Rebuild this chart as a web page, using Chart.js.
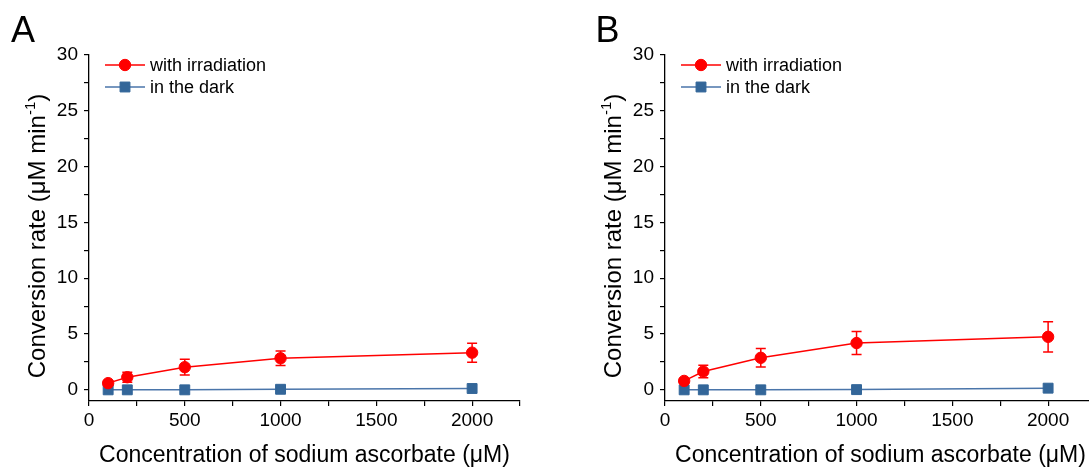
<!DOCTYPE html>
<html><head><meta charset="utf-8">
<script src="https://cdn.jsdelivr.net/npm/chart.js@4/dist/chart.umd.min.js"></script>
<style>
html,body{margin:0;padding:0;background:#fff;overflow:hidden;width:1089px;height:468px;}
.panel{position:absolute;top:0;width:545px;height:468px;}
canvas{display:block;}
</style></head><body>
<div class="panel" style="left:0"><canvas id="cA" width="545" height="468"></canvas></div>
<div class="panel" style="left:576px"><canvas id="cB" width="545" height="468"></canvas></div>
<script>
const concentrations = [100, 200, 500, 1000, 2000];
const irradiationA = [0.6, 1.13, 2.03, 2.83, 3.33];
const irradiationErrA = [0.2, 0.45, 0.7, 0.65, 0.85];
const darkA = [0, 0, 0, 0.05, 0.12];
const irradiationB = [0.8, 1.64, 2.87, 4.19, 4.75];
const irradiationErrB = [0.2, 0.56, 0.83, 1.03, 1.35];
const darkB = [0, 0, 0, 0.02, 0.15];
const yTicks = [0, 2.5, 5, 7.5, 10, 12.5, 15, 17.5, 20, 22.5, 25, 27.5, 30];
const yLabelTicks = [0, 5, 10, 15, 20, 25, 30];
const xTicks = [0, 250, 500, 750, 1000, 1250, 1500, 1750, 2000, 2250];
const xLabelTicks = [0, 500, 1000, 1500, 2000];
const panelLabels = ['A', 'B'];
const seriesNames = ['with irradiation', 'in the dark'];
const xTitle = 'Concentration of sodium ascorbate (\u03BCM)';
const yTitleMain = 'Conversion rate (\u03BCM min';
const yTitleSup = '-1';
const yTitleEnd = ')';

const family = '"Liberation Sans", Arial, Helvetica, sans-serif';
const RED = '#ff0000';
const BLUE = '#336699';
const BLUE_LINE = '#4a75aa';

const decor = {
  id: 'decor',
  beforeDatasetsDraw(chart) {
    const ctx = chart.ctx, xs = chart.scales.x, ys = chart.scales.y;
    chart.data.datasets.forEach(ds => {
      if (!ds.errors) return;
      ctx.save();
      ctx.strokeStyle = ds.borderColor;
      ctx.lineWidth = 1.5;
      ds.data.forEach((p, j) => {
        const e = ds.errors[j];
        const px = xs.getPixelForValue(p.x);
        const t = ys.getPixelForValue(p.y + e), b = ys.getPixelForValue(p.y - e);
        ctx.beginPath();
        ctx.moveTo(px, t); ctx.lineTo(px, b);
        ctx.moveTo(px - 5, t); ctx.lineTo(px + 5, t);
        ctx.moveTo(px - 5, b); ctx.lineTo(px + 5, b);
        ctx.stroke();
      });
      ctx.restore();
    });
  },
  afterDraw(chart, args, opts) {
    const ctx = chart.ctx, ca = chart.chartArea;
    ctx.save();
    // panel label
    ctx.fillStyle = '#000';
    ctx.font = '36px ' + family;
    ctx.textBaseline = 'alphabetic';
    ctx.textAlign = 'left';
    ctx.fillText(opts.label, opts.labelX, 41.5);
    // y title
    ctx.save();
    ctx.translate(45, (ca.top + ca.bottom) / 2 + 8);
    ctx.rotate(-Math.PI / 2);
    const fMain = '24px ' + family, fSup = '15px ' + family;
    ctx.font = fMain;
    const w1 = ctx.measureText(yTitleMain).width;
    const w3 = ctx.measureText(yTitleEnd).width;
    ctx.font = fSup;
    const w2 = ctx.measureText(yTitleSup).width;
    let x = -(w1 + w2 + w3) / 2;
    ctx.font = fMain; ctx.fillText(yTitleMain, x, 0); x += w1;
    ctx.font = fSup; ctx.fillText(yTitleSup, x, -10); x += w2;
    ctx.font = fMain; ctx.fillText(yTitleEnd, x, 0);
    ctx.restore();
    // legend
    chart.data.datasets.forEach((ds, i) => {
      const y = ca.top + 10 + 22 * i;
      const x0 = ca.left + 16, x1 = ca.left + 56;
      ctx.strokeStyle = ds.borderColor;
      ctx.lineWidth = 1.5;
      ctx.beginPath(); ctx.moveTo(x0, y); ctx.lineTo(x1, y); ctx.stroke();
      ctx.fillStyle = ds.pointBackgroundColor;
      ctx.strokeStyle = ds.pointBorderColor;
      ctx.lineWidth = 1;
      Chart.helpers.drawPoint(ctx, {pointStyle: ds.pointStyle, radius: ds.pointRadius, rotation: 0, borderWidth: 1}, (x0 + x1) / 2, y);
      ctx.fillStyle = '#000';
      ctx.font = '18px ' + family;
      ctx.textBaseline = 'middle';
      ctx.fillText(ds.label, ca.left + 61, y + 1);
    });
    ctx.restore();
  }
};

function makeChart(id, irr, err, dark, label, labelX) {
  return new Chart(document.getElementById(id), {
    type: 'line',
    data: {
      datasets: [
        {
          label: seriesNames[0],
          data: concentrations.map((x, i) => ({x, y: irr[i]})),
          errors: err,
          borderColor: RED, backgroundColor: RED,
          pointBackgroundColor: RED, pointBorderColor: RED,
          pointStyle: 'circle', pointRadius: 5.7, borderWidth: 1.5, pointBorderWidth: 1,
          tension: 0, order: 0
        },
        {
          label: seriesNames[1],
          data: concentrations.map((x, i) => ({x, y: dark[i]})),
          borderColor: BLUE_LINE, backgroundColor: BLUE,
          pointBackgroundColor: BLUE, pointBorderColor: BLUE,
          pointStyle: 'rect', pointRadius: 7, borderWidth: 1.5, pointBorderWidth: 1,
          tension: 0, order: 1
        }
      ]
    },
    options: {
      responsive: false, animation: false, events: [],
      layout: {padding: {top: 55, right: 25, left: 0, bottom: 0}},
      plugins: {legend: {display: false}, tooltip: {enabled: false}, decor: {label, labelX}},
      scales: {
        x: {
          type: 'linear', min: 0, max: 2250,
          afterBuildTicks: s => { s.ticks = xTicks.map(v => ({value: v})); },
          afterFit: s => { s.height = 67; },
          ticks: {
            callback: v => xLabelTicks.includes(v) ? String(v) : '',
            font: {size: 19, family}, color: '#000', padding: 3,
            maxRotation: 0, autoSkip: false
          },
          grid: {drawOnChartArea: false, drawTicks: true, tickLength: 5, color: '#000', lineWidth: 1.2},
          border: {color: '#000', width: 1.3},
          title: {display: true, text: xTitle, font: {size: 23, family, lineHeight: 1.1}, color: '#000', padding: {top: 0, bottom: 0}}
        },
        y: {
          min: -1, max: 30,
          afterBuildTicks: s => { s.ticks = yTicks.map(v => ({value: v})); },
          afterFit: s => { s.width = 89; },
          ticks: {
            callback: v => yLabelTicks.includes(v) ? String(v) : '',
            font: {size: 19, family}, color: '#000', padding: 6, autoSkip: false
          },
          grid: {drawOnChartArea: false, drawTicks: true, tickLength: 5, color: '#000', lineWidth: 1.2},
          border: {color: '#000', width: 1.3}
        }
      }
    },
    plugins: [decor]
  });
}

makeChart('cA', irradiationA, irradiationErrA, darkA, panelLabels[0], 11);
makeChart('cB', irradiationB, irradiationErrB, darkB, panelLabels[1], 19.5);
</script>
</body></html>
